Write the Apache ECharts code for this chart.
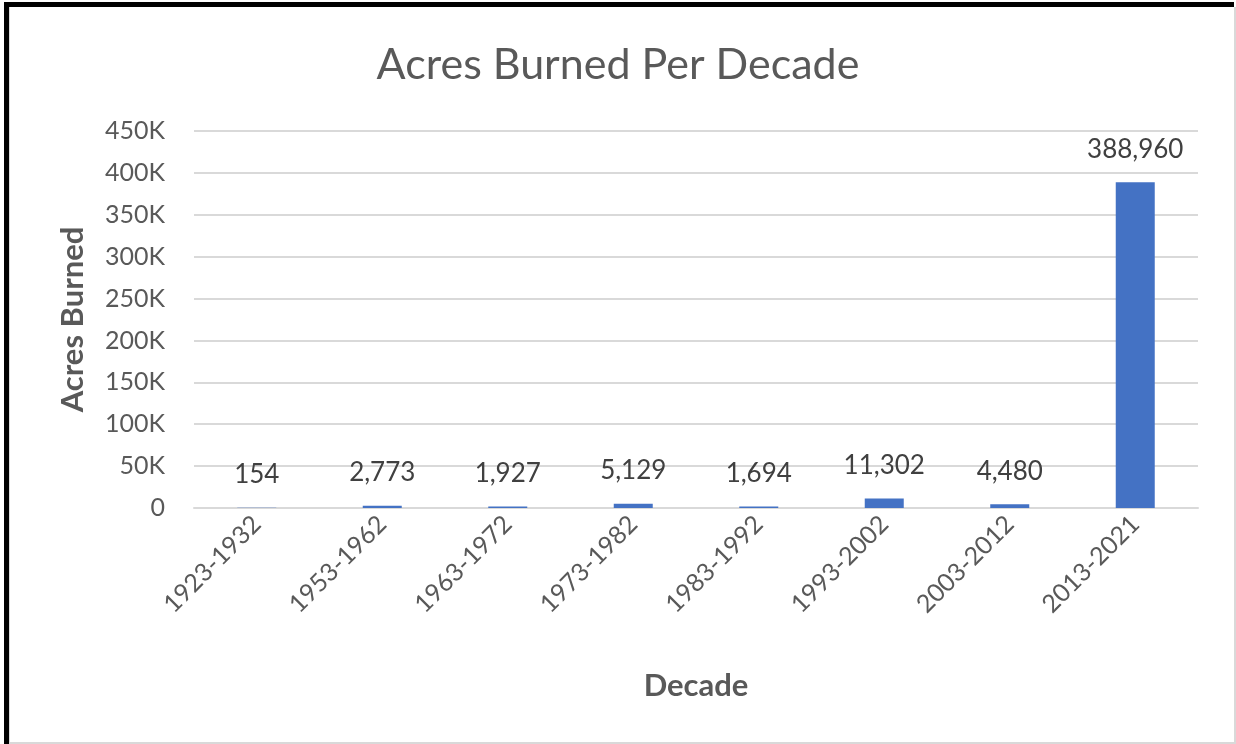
<!DOCTYPE html>
<html>
<head>
<meta charset="utf-8">
<script src="https://cdn.jsdelivr.net/npm/echarts@6/dist/echarts.min.js"></script>
<style>
  html, body { margin: 0; padding: 0; background: #fff; }
  #wrap { position: relative; width: 1236px; height: 744px; overflow: hidden; }
  #main { position: absolute; left: 0; top: 0; width: 1236px; height: 744px; }
  .edge { position: absolute; pointer-events: none; }
</style>
</head>
<body>
<div id="wrap">
  <div id="main"></div>
  <div class="edge" style="left:4px;top:2px;width:5px;height:742px;background:#000"></div>
  <div class="edge" style="left:4px;top:2px;width:1230px;height:5px;background:#000"></div>
  <div class="edge" style="left:9px;top:7px;width:1px;height:736px;background:#d9d9d9"></div>
  <div class="edge" style="left:1234px;top:7px;width:2px;height:737px;background:#d9d9d9"></div>
  <div class="edge" style="left:9px;top:742px;width:1227px;height:2px;background:#d9d9d9"></div>
</div>
<script>
var decades = ['1923-1932', '1953-1962', '1963-1972', '1973-1982', '1983-1992', '1993-2002', '2003-2012', '2013-2021'];
var acres = [154, 2773, 1927, 5129, 1694, 11302, 4480, 388960];

var myChart = echarts.init(document.getElementById('main'));
var font = 'Lato, "Open Sans", sans-serif';
option = {
    animation: false,
    backgroundColor: '#fff',
    title: {
        text: 'Acres Burned Per Decade',
        left: 'center',
        top: 39,
        textStyle: {
            fontFamily: font,
            fontSize: 43,
            fontWeight: 'normal',
            color: '#595959'
        }
    },
    grid: {
        left: 194,
        right: 38,
        top: 131,
        bottom: 236
    },
    xAxis: {
        type: 'category',
        data: decades,
        name: 'Decade',
        nameLocation: 'middle',
        nameGap: 162,
        nameTextStyle: {
            fontFamily: font,
            fontSize: 31,
            fontWeight: 'bold',
            color: '#595959'
        },
        axisLine: { lineStyle: { color: '#d9d9d9', width: 2 } },
        axisTick: { show: false },
        axisLabel: {
            rotate: 45,
            margin: 12,
            fontFamily: font,
            fontSize: 25,
            color: '#595959'
        }
    },
    yAxis: {
        type: 'value',
        min: 0,
        max: 450000,
        interval: 50000,
        name: 'Acres Burned',
        nameLocation: 'middle',
        nameGap: 106,
        nameTextStyle: {
            fontFamily: font,
            fontSize: 31,
            fontWeight: 'bold',
            color: '#595959'
        },
        axisLine: { show: false },
        axisTick: { show: false },
        splitLine: { lineStyle: { color: '#d9d9d9', width: 2 } },
        axisLabel: {
            margin: 29,
            fontFamily: font,
            fontSize: 25,
            color: '#595959',
            formatter: function (v) { return v === 0 ? '0' : (v / 1000) + 'K'; }
        }
    },
    series: [{
        type: 'bar',
        data: acres,
        barWidth: 39,
        itemStyle: { color: '#4472C4' },
        label: {
            show: true,
            position: 'top',
            distance: 20,
            fontFamily: font,
            fontSize: 26,
            color: '#404040',
            formatter: function (p) { return p.value.toLocaleString('en-US'); }
        }
    }]
};
myChart.setOption(option, true);
</script>
</body>
</html>
